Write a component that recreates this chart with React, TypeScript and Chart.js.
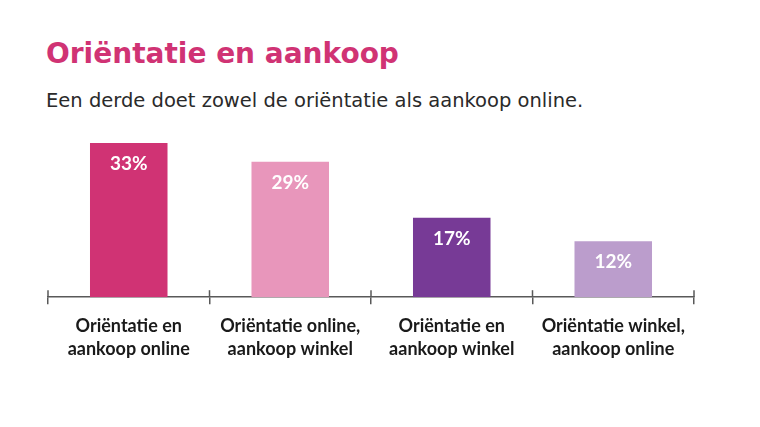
import React, { useEffect, useRef } from "react";
import { Chart, registerables } from "chart.js";

Chart.register(...registerables);

const titleText = "Oriëntatie en aankoop";
const subtitleText = "Een derde doet zowel de oriëntatie als aankoop online.";
const categories: string[][] = [
  ["Oriëntatie en", "aankoop online"],
  ["Oriëntatie online,", "aankoop winkel"],
  ["Oriëntatie en", "aankoop winkel"],
  ["Oriëntatie winkel,", "aankoop online"],
];
const values = [33, 29, 17, 12];
const barColors = ["#d03374", "#e896bb", "#773a96", "#bb9dcc"];

const FONT = "Lato, 'Open Sans', sans-serif";
const HEAD_FONT = "'DejaVu Sans', sans-serif";

const valueLabels = {
  id: "valueLabels",
  afterDatasetsDraw(chart: any) {
    const ctx = chart.ctx;
    const meta = chart.getDatasetMeta(0);
    ctx.save();
    ctx.fillStyle = "#ffffff";
    ctx.font = `bold 19px ${FONT}`;
    ctx.textAlign = "center";
    ctx.textBaseline = "middle";
    meta.data.forEach((bar: any, i: number) => {
      ctx.fillText(`${values[i]}%`, bar.x, bar.y + 21);
    });
    ctx.restore();
  },
};

const upperTicks = {
  id: "upperTicks",
  afterDraw(chart: any) {
    const ctx = chart.ctx;
    const xs = chart.scales.x;
    const bottom = chart.chartArea.bottom;
    const step = xs.width / values.length;
    ctx.save();
    ctx.strokeStyle = "#595959";
    ctx.lineWidth = 1.5;
    for (let i = 0; i <= values.length; i++) {
      const x = xs.left + step * i;
      ctx.beginPath();
      ctx.moveTo(x, bottom - 7);
      ctx.lineTo(x, bottom);
      ctx.stroke();
    }
    ctx.restore();
  },
};

export default function App() {
  const ref = useRef<HTMLCanvasElement>(null);
  useEffect(() => {
    if (!ref.current) return;
    const chart = new Chart(ref.current, {
      type: "bar",
      data: {
        labels: categories,
        datasets: [
          {
            data: values,
            backgroundColor: barColors,
            barPercentage: 0.48,
            categoryPercentage: 1,
          },
        ],
      },
      options: {
        animation: false,
        responsive: false,
        layout: { padding: { left: 48, right: 66, top: 129, bottom: 56 } },
        plugins: { legend: { display: false }, tooltip: { enabled: false }, title: { display: false } },
        scales: {
          y: { display: false, min: 0, max: 36 },
          x: {
            border: { display: true, color: "#595959", width: 1.5 },
            grid: {
              display: true,
              drawOnChartArea: false,
              drawTicks: true,
              tickLength: 7,
              offset: true,
              color: "#595959",
              lineWidth: 1.5,
            },
            ticks: {
              color: "#1a1a1a",
              padding: 10,
              maxRotation: 0,
              font: { family: FONT, size: 18, weight: "bold", lineHeight: 1.3 },
            },
          },
        },
      },
      plugins: [valueLabels, upperTicks],
    });
    return () => chart.destroy();
  }, []);
  return (
    <div style={{ position: "absolute", left: 0, top: 0, width: 760, height: 427, background: "#fff" }}>
      <div
        style={{
          position: "absolute",
          left: 46,
          top: 40,
          fontFamily: HEAD_FONT,
          fontWeight: "bold",
          fontSize: 28,
          color: "#d03374",
          whiteSpace: "nowrap",
          lineHeight: 1,
        }}
      >
        {titleText}
      </div>
      <div
        style={{
          position: "absolute",
          left: 46,
          top: 91,
          fontFamily: HEAD_FONT,
          fontSize: 19.5,
          color: "#2a2a2a",
          whiteSpace: "nowrap",
          lineHeight: 1,
        }}
      >
        {subtitleText}
      </div>
      <canvas ref={ref} width={760} height={427} style={{ position: "absolute", left: 0, top: 0 }} />
    </div>
  );
}
